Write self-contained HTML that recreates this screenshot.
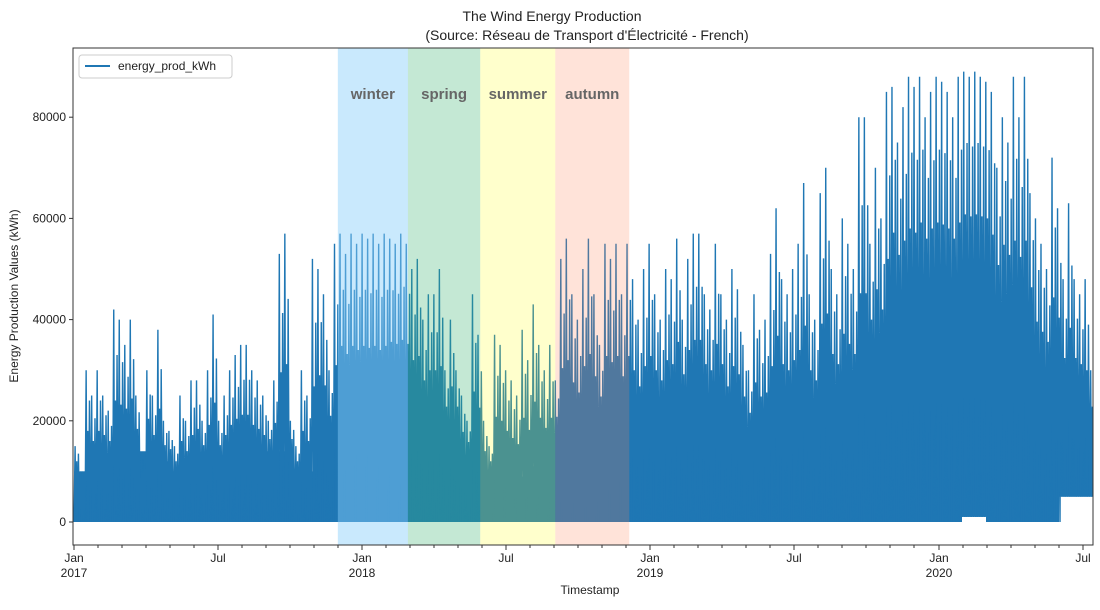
<!DOCTYPE html>
<html><head><meta charset="utf-8"><style>
body{margin:0;background:#fff;font-family:"Liberation Sans",sans-serif}
svg text{font-family:"Liberation Sans","DejaVu Sans",sans-serif}
</style></head><body>
<svg id="c" width="1100" height="605" xmlns="http://www.w3.org/2000/svg">
<text x="552" y="21" text-anchor="middle" font-size="14" fill="#222">The Wind Energy Production</text>
<text x="587" y="40" text-anchor="middle" font-size="14" fill="#222">(Source: Réseau de Transport d'Électricité - French)</text>
<g id="plot"></g>
<text x="590" y="594" text-anchor="middle" font-size="12" fill="#222">Timestamp</text>
<text transform="translate(18,296) rotate(-90)" text-anchor="middle" font-size="12" fill="#222">Energy Production Values (kWh)</text>
</svg>
<script>
// weekly peaks (thousand kWh), starting Jan 2017
const weeklyPeaks=[15,10,30,25, 30,25,22,42, 40,35,40,25,10, 30,25,38,20, 18,15,25,20,28, 28,20,30,41, 20,25,30,33,35, 35,30,28,25, 20,28,53,57, 20,15,30,25, 52,50,45,30,55, 57,53,57,55,
 57,56,57,55, 57,56,55,57, 55,50,52,40, 45,45,50,30,40, 30,25,20,45,37, 20,15,37,35, 30,28,25,38, 32,43,35,30,35, 28,52,56,45,40, 50,56,45,35, 55,52,55,45, 55,48,40,50,
 55,45,40,50, 48,56,40,52, 57,57,45,42,55, 45,40,50,46, 35,30,45,38, 40,53,62,48,45, 50,55,67,45, 40,65,70,50, 45,60,55,50,80, 80,55,70,60, 85,86,75,82,88, 86,88,80,85,
 88,87,85,80, 88,89,88,89,88, 87,85,70,80, 75,88,80,88, 65,60,55,50,72, 62,48,63,48,45, 48,30];
// monthly dense-band top and base (thousand kWh)
const monthlyMid=[10,12,14,12,10,12,12,12,14,10,15,20, 20,22,20,18,13,10,9,11,16,18,18,18, 20,22,22,18,16,20,20,22,22,30,38,40, 40,42,38,34,26,22,18];
const monthlyBase=[0,0,0,0,0,0,0,0,0,0,0,0, 0,0,0,0,0,0,0,0,0,0,0,0, 0,0,0,0,0,0,0,0,0,0,0,0, 0,1,0,0,0,5,5];
const yTicks=[0,20000,40000,60000,80000];
const years=["2017","2018","2019","2020"];
const seasons=["winter","spring","summer","autumn"];
const seasonStartWeek=[47.8,60.5,73.6,87.2,100.6];

const PL=73,PR=1093,PT=48,PB=545;
const NS="http://www.w3.org/2000/svg";
const xW=w=>74+w*(288/52.18);
const xM=m=>74+m*24;
const yV=v=>522-v*50.6/10000;
const g=document.getElementById('plot');
function mk(t,a){const e=document.createElementNS(NS,t);for(const k in a)e.setAttribute(k,a[k]);g.appendChild(e);return e;}
const defs=mk('defs',{});
const cp=document.createElementNS(NS,'clipPath');cp.setAttribute('id','clp');defs.appendChild(cp);
const cr=document.createElementNS(NS,'rect');cr.setAttribute('x',PL);cr.setAttribute('y',PT);cr.setAttribute('width',PR-PL);cr.setAttribute('height',PB-PT);cp.appendChild(cr);

let topPts=[],botPts=[];
for(let m=0;m<monthlyMid.length;m++){
  topPts.push(xM(m)+','+yV(monthlyMid[m]*1000).toFixed(1));topPts.push(xM(m+1)+','+yV(monthlyMid[m]*1000).toFixed(1));
  botPts.unshift(xM(m)+','+yV(monthlyBase[m]*1000).toFixed(1));botPts.unshift(xM(m+1)+','+yV(monthlyBase[m]*1000).toFixed(1));
}
const band=mk('polygon',{points:topPts.concat(botPts).join(' '),fill:'#1f77b4','clip-path':'url(#clp)'});


let pts=[];
for(let i=0;i<weeklyPeaks.length;i++){
  const m=Math.min(Math.floor(i/4.348),monthlyMid.length-1);
  const base=monthlyBase[m]*1000,mid=monthlyMid[m]*1000,pk=weeklyPeaks[i]*1000;
  pts.push(xW(i)+','+yV(base));
  pts.push(xW(i+0.2)+','+yV(pk));
  pts.push(xW(i+0.35)+','+yV(base));
  pts.push(xW(i+0.5)+','+yV(mid+(pk-mid)*0.4));
  pts.push(xW(i+0.65)+','+yV(base));
  pts.push(xW(i+0.8)+','+yV(mid+(pk-mid)*0.7));
}
const line=mk('polyline',{points:pts.join(' '),fill:'none',stroke:'#1f77b4','stroke-width':1.4,'clip-path':'url(#clp)'});


const sc=['rgba(135,206,250,0.45)','rgba(60,179,113,0.3)','rgba(255,255,0,0.2)','rgba(255,127,80,0.22)'];
for(let s=0;s<4;s++){
  const x0=xW(seasonStartWeek[s]),x1=xW(seasonStartWeek[s+1]);
  const r=mk('rect',{x:x0,y:PT,width:x1-x0,height:PB-PT,fill:sc[s]});
  
  
  const t=mk('text',{x:(x0+x1)/2,y:99,'text-anchor':'middle','font-size':15,'font-weight':'bold',fill:'#666'});
  t.textContent=seasons[s];
  
  
}
mk('rect',{x:PL,y:PT,width:PR-PL,height:PB-PT,fill:'none',stroke:'#333','stroke-width':1});
yTicks.forEach(v=>{
  const y=yV(v);
  mk('line',{x1:PL-4,x2:PL,y1:y,y2:y,stroke:'#333'});
  const t=mk('text',{x:PL-7,y:y+4,'text-anchor':'end','font-size':12,fill:'#222'});
  t.textContent=v;
  
  
});
for(let m=0;m<=42;m++){
  const x=xM(m)+(m>=36?1:0);
  const major=m%6===0;
  mk('line',{x1:x,x2:x,y1:PB,y2:PB+(major?5:3),stroke:'#333'});
  if(major){
    const t=mk('text',{x:x,y:562,'text-anchor':'middle','font-size':12,fill:'#222'});
    t.textContent=m%12===0?'Jan':'Jul';
    
    
    if(m%12===0){
      const t2=mk('text',{x:x,y:577,'text-anchor':'middle','font-size':12,fill:'#222'});
      t2.textContent=years[m/12];
      
      
    }
  }
}
const lg=mk('rect',{x:79,y:55,width:153,height:23,fill:'#fff',stroke:'#ccc',rx:3});


mk('line',{x1:85,x2:110,y1:66,y2:66,stroke:'#1f77b4','stroke-width':2});
const lt=mk('text',{x:118,y:70,'font-size':12,fill:'#222'});
lt.textContent='energy_prod_kWh';


</script>
</body></html>
